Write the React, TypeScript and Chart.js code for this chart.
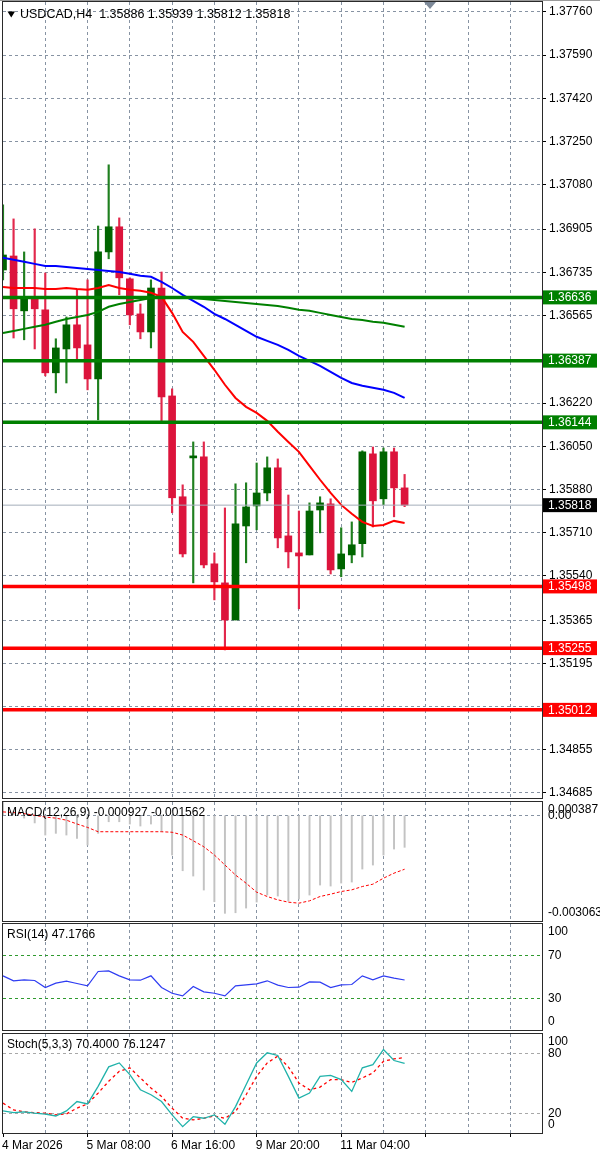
import { useEffect, useRef } from "react";
import { Chart, registerables } from "chart.js";

Chart.register(...registerables);

const FONT = "'Liberation Sans', Arial, sans-serif";
const GRID = "#8793a3";
const SLOTS = 52; // 39 bars + empty chart-shift space on the right

// USDCAD H4 candles
const opens = [
  1.36744, 1.36799, 1.36583, 1.36638, 1.36587, 1.36339, 1.36433, 1.36528, 1.36449, 1.36315,
  1.36815, 1.36914, 1.36709, 1.36571, 1.365, 1.36673, 1.36248, 1.35851, 1.36004, 1.36008,
  1.35587, 1.35512, 1.35366, 1.35736, 1.35815, 1.35866, 1.35965, 1.35697, 1.3563, 1.35622,
  1.35799, 1.35823, 1.35567, 1.35622, 1.35666, 1.3602, 1.35843, 1.36028, 1.35886,
];
const highs = [
  1.37, 1.36945, 1.36815, 1.36906, 1.36732, 1.36473, 1.36559, 1.36666, 1.36705, 1.36917,
  1.37158, 1.36949, 1.36713, 1.3661, 1.36705, 1.36736, 1.36276, 1.35898, 1.36067, 1.36067,
  1.3563, 1.35807, 1.35902, 1.35906, 1.35984, 1.36008, 1.36, 1.35858, 1.35795, 1.35827,
  1.35851, 1.35843, 1.35729, 1.35752, 1.36032, 1.36047, 1.36043, 1.36043, 1.35939,
];
const lows = [
  1.36705, 1.36476, 1.36469, 1.36433, 1.36327, 1.3626, 1.36299, 1.36394, 1.36272, 1.36154,
  1.36788, 1.36646, 1.36528, 1.36473, 1.36437, 1.3615, 1.35788, 1.35614, 1.35512, 1.35571,
  1.35445, 1.35248, 1.35366, 1.35591, 1.35721, 1.35835, 1.3565, 1.35571, 1.3541, 1.35622,
  1.35709, 1.35547, 1.35536, 1.35591, 1.35614, 1.35732, 1.35819, 1.35772, 1.35812,
];
const closes = [
  1.36803, 1.36591, 1.36638, 1.36591, 1.36339, 1.36437, 1.36528, 1.36437, 1.36315, 1.36815,
  1.36914, 1.36713, 1.36567, 1.365, 1.36673, 1.36244, 1.35847, 1.35626, 1.36012, 1.35583,
  1.35516, 1.35366, 1.35744, 1.35811, 1.35866, 1.35965, 1.35689, 1.35634, 1.35618, 1.35795,
  1.35827, 1.35563, 1.35626, 1.35662, 1.36028, 1.35835, 1.36028, 1.35886, 1.35818,
];

// moving averages
const maRed = [
  1.36677, 1.36673, 1.36673, 1.36673, 1.36669, 1.36669, 1.36673, 1.36669, 1.36666, 1.36673,
  1.36685, 1.36673, 1.36666, 1.36662, 1.36654, 1.36638, 1.36575, 1.365, 1.36461, 1.36406,
  1.36351, 1.36292, 1.3624, 1.36205, 1.36181, 1.3615, 1.36107, 1.36067, 1.36028, 1.35973,
  1.35918, 1.35866, 1.35819, 1.35784, 1.35752, 1.35736, 1.3574, 1.35756, 1.35748,
];
const maBlue = [
  1.36792, 1.36784, 1.36776, 1.36768, 1.3676, 1.3676, 1.36756, 1.36752, 1.36748, 1.36744,
  1.3674, 1.36736, 1.36729, 1.36721, 1.36717, 1.36697, 1.36673, 1.36646, 1.36622, 1.36599,
  1.36571, 1.36551, 1.36528, 1.36504, 1.36481, 1.36465, 1.36449, 1.36429, 1.36406, 1.36386,
  1.36366, 1.36343, 1.36319, 1.36299, 1.36288, 1.3628, 1.36272, 1.3626, 1.3624,
];
const maGreen = [
  1.36496, 1.36504, 1.36512, 1.3652, 1.36528, 1.3654, 1.36551, 1.36559, 1.36567, 1.36579,
  1.36599, 1.3661, 1.36618, 1.36626, 1.36634, 1.36634, 1.36638, 1.36638, 1.36634, 1.3663,
  1.36626, 1.36622, 1.36618, 1.36614, 1.3661, 1.36606, 1.36602, 1.36595, 1.36587, 1.36583,
  1.36575, 1.36567, 1.36559, 1.36551, 1.36547, 1.3654, 1.36536, 1.36528, 1.3652,
];

// MACD(12,26,9)
const macdMain = [
  0.00038, 0.00012, -0.00008, -0.00022, -0.000571, -0.000522, -0.000571, -0.000667, -0.000861, -0.000522,
  -0.000186, -0.000186, -0.000252, -0.00031, -0.000252, -0.000475, -0.001151, -0.001606, -0.00176, -0.002166,
  -0.002505, -0.002841, -0.002824, -0.002688, -0.002514, -0.002311, -0.00234, -0.002485, -0.002427, -0.002311,
  -0.002021, -0.00205, -0.001963, -0.001934, -0.001557, -0.001441, -0.001151, -0.000977, -0.000927,
];
const macdSignal = [
  0.0001, 0.00008, 0.00005, 0, -0.00005, -0.00008, -0.00014, -0.00025, -0.00035, -0.000475,
  -0.000475, -0.000475, -0.000475, -0.000475, -0.000475, -0.000475, -0.00049, -0.000571, -0.000736, -0.00091,
  -0.00115, -0.00144, -0.00173, -0.001967, -0.002227, -0.002353, -0.00245, -0.002517, -0.002546, -0.002479,
  -0.002353, -0.002285, -0.002208, -0.00216, -0.002063, -0.001996, -0.001822, -0.001676, -0.001562,
];
const macdAxisValues = [0.000387, 0, -0.003063];
const macdAxisText = ["0.000387", "0.00", "-0.003063"];

// RSI(14)
const rsiValues = [
  51.1, 46.4, 47.3, 46.7, 40.1, 44.2, 46.1, 43.9, 41.6, 55.2,
  55.8, 51.1, 47.3, 47.0, 51.1, 40.1, 34.7, 32.2, 41.0, 36.0,
  34.7, 32.2, 41.6, 42.6, 43.5, 46.4, 42.3, 40.1, 40.4, 45.4,
  45.1, 40.1, 42.6, 42.9, 51.1, 47.3, 51.1, 48.9, 47.1766,
];
const rsiLevels = [70, 30];
const rsiAxis = [100, 70, 30, 0];

// Stochastic(5,3,3)
const stochMain = [
  22.3, 20.6, 21.3, 20.0, 19.0, 17.2, 22.3, 31.8, 29.4, 47.1,
  66.8, 70.8, 58.9, 43.7, 38.6, 31.8, 18.3, 6.4, 16.5, 14.9,
  18.3, 8.8, 26.7, 48.8, 70.8, 81.0, 78.3, 57.2, 35.2, 40.3,
  57.2, 58.2, 53.9, 42.0, 65.8, 69.1, 84.4, 73.2, 70.4,
];
const stochSignal = [
  30.2, 23.3, 21.3, 20.6, 20.0, 18.3, 19.3, 25.1, 29.4, 40.3,
  52.2, 62.3, 65.8, 55.6, 45.4, 36.9, 25.1, 14.9, 13.2, 14.9,
  17.2, 14.9, 21.6, 38.6, 57.2, 70.8, 77.6, 66.8, 50.5, 43.7,
  46.4, 53.9, 53.9, 51.1, 55.6, 60.7, 72.5, 74.9, 76.1247,
];
const stochLevels = [80, 20];
const stochAxis = [100, 80, 20, 0];

// price axis and drawn levels
const priceTicks = [
  1.3776, 1.3759, 1.3742, 1.3725, 1.3708, 1.36905, 1.36735, 1.36565, 1.3639, 1.3622,
  1.3605, 1.3588, 1.3571, 1.3554, 1.35365, 1.35195, 1.35025, 1.34855, 1.34685,
];
const priceMin = 1.34665;
const priceMax = 1.37799;
const resistanceLines = [1.36636, 1.36387, 1.36144];
const supportLines = [1.35498, 1.35255, 1.35012];
const lastPrice = closes[closes.length - 1];

const timeTickIndex = [0, 8, 16, 24, 32];
const timeTickText = ["4 Mar 2026", "5 Mar 08:00", "6 Mar 16:00", "9 Mar 20:00", "11 Mar 04:00"];

const xLabels = Array.from({ length: SLOTS }, (_, i) => {
  const k = timeTickIndex.indexOf(i);
  return k >= 0 ? timeTickText[k] : "";
});
const last = closes.length - 1;
const labelledLevels = [...resistanceLines, ...supportLines, lastPrice];

function xScale(showLabels: boolean) {
  return {
    type: "category",
    offset: false,
    grid: {
      offset: false,
      color: (c: any) => (c.index > 0 && c.index % 4 === 0 ? GRID : "transparent"),
      drawTicks: showLabels,
      tickLength: 4,
      tickWidth: 1,
      tickColor: (c: any) => (c.index % 8 === 0 ? "#000" : "transparent"),
    },
    border: { display: false, dash: [3, 3] },
    ticks: showLabels
      ? {
          autoSkip: false,
          maxRotation: 0,
          minRotation: 0,
          align: "start",
          padding: 1,
          labelOffset: -1,
          color: "#000",
          font: { family: FONT, size: 12 },
        }
      : { display: false },
    afterFit: (s: any) => {
      s.height = showLabels ? 20 : 0;
      s.paddingLeft = 0;
      s.paddingRight = 0;
    },
  };
}

function ySubScale(min: number, max: number, levels: number[], color: string) {
  return {
    position: "right",
    min,
    max,
    afterBuildTicks: (s: any) => {
      s.ticks = levels.map((v) => ({ value: v }));
    },
    grid: { color, drawTicks: false },
    border: { display: false, dash: [3, 3] },
    ticks: { display: false },
    afterFit: (s: any) => {
      s.width = 58;
      s.paddingTop = 0;
      s.paddingBottom = 0;
    },
  };
}

function framePanel(ctx: CanvasRenderingContext2D, a: any) {
  ctx.strokeStyle = "#2a2a2a";
  ctx.lineWidth = 1;
  ctx.strokeRect(a.left - 0.5, a.top - 0.5, a.right - a.left + 1, a.bottom - a.top + 1);
}

function subPanelPlugin(title: string, values: number[], texts: string[]) {
  return {
    id: "subPanel",
    afterDraw(chart: any) {
      const { ctx, chartArea: a, scales } = chart;
      ctx.save();
      framePanel(ctx, a);
      ctx.fillStyle = "#000";
      ctx.font = `12px ${FONT}`;
      ctx.textBaseline = "middle";
      ctx.textAlign = "left";
      values.forEach((v, i) => {
        const py = Math.min(Math.max(scales.y.getPixelForValue(v), a.top + 8), a.bottom - 8);
        ctx.fillText(texts[i], a.right + 6, py);
      });
      ctx.fillText(title, a.left + 4, a.top + 11);
      ctx.restore();
    },
  };
}

const mainPlugin = {
  id: "mainDecor",
  afterDatasetsDraw(chart: any) {
    const { ctx, chartArea: a, scales } = chart;
    const level = (v: number, color: string, w: number) => {
      const py = scales.y.getPixelForValue(v);
      ctx.strokeStyle = color;
      ctx.lineWidth = w;
      ctx.beginPath();
      ctx.moveTo(a.left, py);
      ctx.lineTo(a.right, py);
      ctx.stroke();
    };
    ctx.save();
    level(lastPrice, "#a3adb9", 1);
    resistanceLines.forEach((v) => level(v, "#008000", 3.5));
    supportLines.forEach((v) => level(v, "#ff0000", 3.5));
    ctx.restore();
  },
  afterDraw(chart: any) {
    const { ctx, chartArea: a, scales } = chart;
    ctx.save();
    ctx.fillStyle = "#9a9a9a";
    ctx.fillRect(0, 0, 600, 1);
    framePanel(ctx, a);
    ctx.font = `12px ${FONT}`;
    ctx.textBaseline = "middle";
    ctx.textAlign = "left";
    const box = (v: number, bg: string) => {
      const py = scales.y.getPixelForValue(v);
      ctx.fillStyle = bg;
      ctx.fillRect(a.right + 1, py - 7, 54, 14);
      ctx.fillStyle = "#fff";
      ctx.fillText(v.toFixed(5), a.right + 6, py + 0.5);
    };
    resistanceLines.forEach((v) => box(v, "#008000"));
    supportLines.forEach((v) => box(v, "#ff0000"));
    box(lastPrice, "#000");
    // chart shift marker
    ctx.fillStyle = "#7d8998";
    ctx.beginPath();
    ctx.moveTo(424, 2);
    ctx.lineTo(436, 2);
    ctx.lineTo(430, 9);
    ctx.closePath();
    ctx.fill();
    // header
    ctx.fillStyle = "#000";
    ctx.beginPath();
    ctx.moveTo(7.5, 11.5);
    ctx.lineTo(15, 11.5);
    ctx.lineTo(11.25, 17.5);
    ctx.closePath();
    ctx.fill();
    ctx.font = `12.5px ${FONT}`;
    const ohlc = [opens[last], highs[last], lows[last], closes[last]].map((v) => v.toFixed(5)).join(" ");
    ctx.fillText(`USDCAD,H4  ${ohlc}`, 20, 15);
    ctx.restore();
  },
};

const baseOptions = (padding: any) => ({
  responsive: false,
  animation: false,
  events: [],
  layout: { padding },
  plugins: { legend: { display: false }, tooltip: { enabled: false } },
});

const bull = closes.map((c, i) => c >= opens[i]);
const candleColors = bull.map((b) => (b ? "#006400" : "#dc143c"));
const wickColors = bull.map((b) => (b ? "#1f7f1f" : "#e2284c"));

function buildMain() {
  return {
    type: "bar",
    data: {
      labels: xLabels,
      datasets: [
        { type: "line", data: maRed, borderColor: "#ff0000", borderWidth: 2, pointRadius: 0, order: 0 },
        { type: "line", data: maBlue, borderColor: "#0000ff", borderWidth: 2, pointRadius: 0, order: 0 },
        { type: "line", data: maGreen, borderColor: "#008000", borderWidth: 2, pointRadius: 0, order: 0 },
        {
          type: "bar",
          data: opens.map((o, i) => [o, closes[i]]),
          backgroundColor: candleColors,
          barThickness: 7,
          grouped: false,
          minBarLength: 1,
          order: 1,
        },
        {
          type: "bar",
          data: lows.map((l, i) => [l, highs[i]]),
          backgroundColor: wickColors,
          barThickness: 1.5,
          grouped: false,
          order: 2,
        },
      ],
    },
    options: {
      ...baseOptions({ top: 2, left: 3, right: 0, bottom: 2 }),
      scales: {
        x: xScale(false),
        y: {
          position: "right",
          min: priceMin,
          max: priceMax,
          afterBuildTicks: (s: any) => {
            s.ticks = priceTicks.map((v) => ({ value: v }));
          },
          grid: { color: GRID, drawTicks: true, tickLength: 4, tickColor: "#000" },
          border: { display: false, dash: [3, 3] },
          ticks: {
            autoSkip: false,
            color: "#000",
            padding: 3,
            font: { family: FONT, size: 12 },
            // labels hidden behind a price box are left out, as the terminal does
            callback: (v: any) =>
              labelledLevels.some((l) => Math.abs(l - Number(v)) < 0.00025) ? "" : Number(v).toFixed(5),
          },
          afterFit: (s: any) => {
            s.width = 58;
            s.paddingTop = 0;
            s.paddingBottom = 0;
          },
        },
      },
    },
    plugins: [mainPlugin],
  };
}

function buildMacd() {
  return {
    type: "bar",
    data: {
      labels: xLabels,
      datasets: [
        {
          type: "line",
          data: macdSignal,
          borderColor: "#ff0000",
          borderWidth: 1,
          borderDash: [3, 2],
          pointRadius: 0,
          order: 0,
        },
        { type: "bar", data: macdMain, backgroundColor: "#c3c3c3", barThickness: 1.3, order: 1 },
      ],
    },
    options: {
      ...baseOptions({ top: 2, left: 3, right: 0, bottom: 3 }),
      scales: {
        x: xScale(false),
        y: ySubScale(macdAxisValues[2], macdAxisValues[0], [0], GRID),
      },
    },
    plugins: [
      subPanelPlugin(
        `MACD(12,26,9) ${macdMain[last].toFixed(6)} ${macdSignal[last].toFixed(6)}`,
        macdAxisValues,
        macdAxisText,
      ),
    ],
  };
}

function buildRsi() {
  return {
    type: "line",
    data: {
      labels: xLabels,
      datasets: [{ data: rsiValues, borderColor: "#2e3cf2", borderWidth: 1.2, pointRadius: 0 }],
    },
    options: {
      ...baseOptions({ top: 2, left: 3, right: 0, bottom: 2 }),
      scales: {
        x: xScale(false),
        y: ySubScale(0, 100, rsiLevels, "#2f9a2f"),
      },
    },
    plugins: [
      subPanelPlugin(
        `RSI(14) ${rsiValues[last].toFixed(4)}`,
        rsiAxis,
        rsiAxis.map((v) => String(v)),
      ),
    ],
  };
}

function buildStoch() {
  return {
    type: "line",
    data: {
      labels: xLabels,
      datasets: [
        { data: stochMain, borderColor: "#20b2aa", borderWidth: 1.3, pointRadius: 0 },
        {
          data: stochSignal,
          borderColor: "#ff0000",
          borderWidth: 1.3,
          borderDash: [3, 3],
          pointRadius: 0,
        },
      ],
    },
    options: {
      ...baseOptions({ top: 2, left: 3, right: 0, bottom: 0 }),
      scales: {
        x: xScale(true),
        y: ySubScale(0, 100, stochLevels, "#a8a8a8"),
      },
    },
    plugins: [
      subPanelPlugin(
        `Stoch(5,3,3) ${stochMain[last].toFixed(4)} ${stochSignal[last].toFixed(4)}`,
        stochAxis,
        stochAxis.map((v) => String(v)),
      ),
    ],
  };
}

function ChartCanvas({ top, height, build }: { top: number; height: number; build: () => any }) {
  const canvasRef = useRef<HTMLCanvasElement | null>(null);

  useEffect(() => {
    if (!canvasRef.current) return;
    const chart = new Chart(canvasRef.current, build());
    return () => chart.destroy();
  }, [build]);

  return (
    <div style={{ position: "absolute", left: 0, top, width: 600, height }}>
      <canvas ref={canvasRef} width={600} height={height} style={{ display: "block" }} />
    </div>
  );
}

export default function App() {
  useEffect(() => {
    document.body.style.margin = "0";
  }, []);

  return (
    <div style={{ position: "relative", width: 600, height: 1153, background: "#fff" }}>
      <ChartCanvas top={0} height={800} build={buildMain} />
      <ChartCanvas top={800} height={124} build={buildMacd} />
      <ChartCanvas top={922} height={110} build={buildRsi} />
      <ChartCanvas top={1032} height={121} build={buildStoch} />
    </div>
  );
}
